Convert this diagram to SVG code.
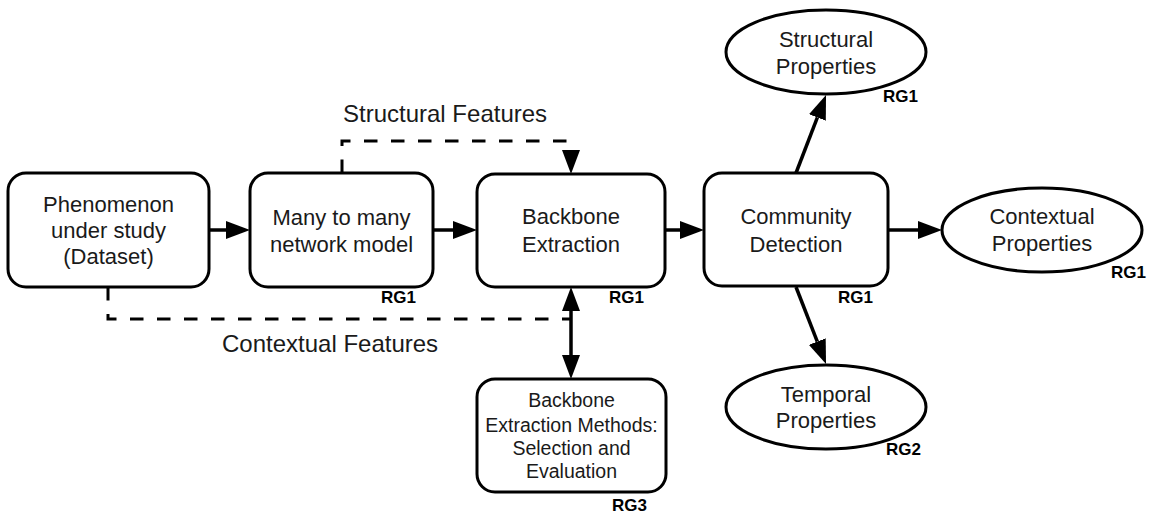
<svg xmlns="http://www.w3.org/2000/svg" width="1153" height="514" viewBox="0 0 1153 514">
<style>
  .box{fill:#fff;stroke:#000;stroke-width:3}
  .t{font-family:"Liberation Sans",Arial,sans-serif;font-size:22px;fill:#1a1a1a;text-anchor:middle}
  .ts{font-family:"Liberation Sans",Arial,sans-serif;font-size:19.5px;fill:#1a1a1a;text-anchor:middle}
  .rg{font-family:"Liberation Sans",Arial,sans-serif;font-size:17px;font-weight:bold;fill:#000;text-anchor:end}
  .el{font-family:"Liberation Sans",Arial,sans-serif;font-size:24px;fill:#1a1a1a}
  .edge{fill:none;stroke:#000;stroke-width:3.5}
  .dash{fill:none;stroke:#000;stroke-width:3;stroke-dasharray:13.5 13.5}
</style>
<defs>
  <marker id="ah" viewBox="0 0 24 18" refX="0" refY="9" markerWidth="24" markerHeight="18" markerUnits="userSpaceOnUse" orient="auto-start-reverse">
    <path d="M0,0 L24,9 L0,18 z" fill="#000" stroke="none"/>
  </marker>
</defs>
<rect width="1153" height="514" fill="#fff"/>
<g id="connectors">
  <line class="edge" x1="209" y1="230" x2="226" y2="230" marker-end="url(#ah)"/>
  <line class="edge" x1="433" y1="230" x2="453" y2="230" marker-end="url(#ah)"/>
  <line class="edge" x1="665" y1="230" x2="680" y2="230" marker-end="url(#ah)"/>
  <line class="edge" x1="888" y1="230" x2="918" y2="230" marker-end="url(#ah)"/>
  <line class="edge" x1="796" y1="173" x2="817.4" y2="117.4" marker-end="url(#ah)"/>
  <line class="edge" x1="796" y1="287" x2="817.3" y2="341.6" marker-end="url(#ah)"/>
  <path class="dash" d="M342,173 V141 H571 V150" marker-end="url(#ah)"/>
  <path class="dash" d="M108,287 V319 H571"/>
  <line class="edge" x1="571" y1="311" x2="571" y2="355" marker-start="url(#ah)" marker-end="url(#ah)"/>
  <text class="el" x="343" y="122">Structural Features</text>
  <text class="el" x="222" y="352">Contextual Features</text>
</g>
<g id="phenomenon">
  <rect class="box" x="8" y="173" width="201" height="114" rx="18"/>
  <text class="t" x="108.5" y="212">Phenomenon</text>
  <text class="t" x="108.5" y="238">under study</text>
  <text class="t" x="108.5" y="264">(Dataset)</text>
</g>
<g id="network-model">
  <rect class="box" x="250" y="173" width="183" height="114" rx="18"/>
  <text class="t" x="341.5" y="225">Many to many</text>
  <text class="t" x="341.5" y="252">network model</text>
  <text class="rg" x="416" y="303">RG1</text>
</g>
<g id="backbone-extraction">
  <rect class="box" x="477" y="174" width="188" height="113" rx="18"/>
  <text class="t" x="571" y="224">Backbone</text>
  <text class="t" x="571" y="252">Extraction</text>
  <text class="rg" x="644" y="303">RG1</text>
</g>
<g id="community-detection">
  <rect class="box" x="704" y="173" width="184" height="113" rx="18"/>
  <text class="t" x="796" y="224">Community</text>
  <text class="t" x="796" y="252">Detection</text>
  <text class="rg" x="873" y="303">RG1</text>
</g>
<g id="backbone-methods">
  <rect class="box" x="477" y="379" width="189" height="113" rx="18"/>
  <text class="ts" x="571.5" y="407">Backbone</text>
  <text class="ts" x="571.5" y="432">Extraction Methods:</text>
  <text class="ts" x="571.5" y="455">Selection and</text>
  <text class="ts" x="571.5" y="478">Evaluation</text>
  <text class="rg" x="647" y="511">RG3</text>
</g>
<g id="structural-properties">
  <ellipse class="box" cx="826" cy="52" rx="100" ry="42"/>
  <text class="t" x="826" y="47">Structural</text>
  <text class="t" x="826" y="74">Properties</text>
  <text class="rg" x="918" y="102">RG1</text>
</g>
<g id="contextual-properties">
  <ellipse class="box" cx="1042" cy="230" rx="100" ry="42"/>
  <text class="t" x="1042" y="224">Contextual</text>
  <text class="t" x="1042" y="251">Properties</text>
  <text class="rg" x="1146" y="278">RG1</text>
</g>
<g id="temporal-properties">
  <ellipse class="box" cx="826" cy="407" rx="100" ry="42"/>
  <text class="t" x="826" y="402">Temporal</text>
  <text class="t" x="826" y="428">Properties</text>
  <text class="rg" x="921" y="455">RG2</text>
</g>
</svg>
